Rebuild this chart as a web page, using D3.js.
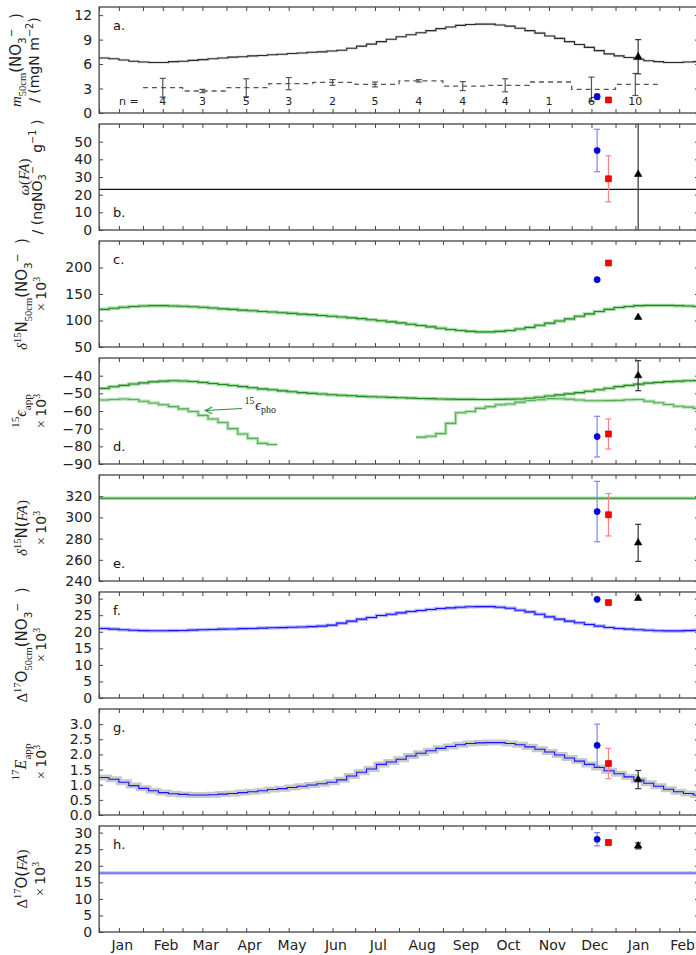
<!DOCTYPE html>
<html>
<head>
<meta charset="utf-8">
<script src="https://cdn.jsdelivr.net/npm/d3@7"></script>
<style>
  body { margin: 0; background: #fff; }
  svg { display: block; }
  text { white-space: pre; }
</style>
</head>
<body>
<svg id="chart" width="696" height="955"></svg>
<script>
// ---------------------------------------------------------------------------
// Data
// ---------------------------------------------------------------------------
const monthLabels = ["Jan","Feb","Mar","Apr","May","Jun","Jul","Aug","Sep","Oct","Nov","Dec","Jan","Feb"];

// Weekly model output, one value per 7-day step starting 1 January
const modelStart = "2013-01-01";
const massModel = [6.75,6.65,6.5,6.35,6.25,6.2,6.2,6.3,6.35,6.45,
  6.55,6.65,6.75,6.85,6.9,7.0,7.05,7.15,7.2,7.3,
  7.35,7.45,7.5,7.6,7.7,7.95,8.2,8.45,8.75,9.05,
  9.35,9.6,9.85,10.1,10.35,10.55,10.75,10.85,10.9,10.9,
  10.8,10.65,10.4,10.1,9.8,9.45,9.15,8.75,8.4,8.05,
  7.65,7.25,7.0,6.8,6.6,6.4,6.3,6.2,6.2,6.25,6.3];
const d15NSnow = [121,123,125,126.5,127.5,128,128,127.5,127,126,
  125,123.5,122,121,119.5,118.5,117,116,114.5,113.5,
  112,111,109.5,108,106.5,105,103.5,101.5,99.5,97.5,
  95.5,93,90.5,88,85.5,83,81,79.5,78.5,78.5,
  79.5,81,84,87,91,95,99,103,108,112.5,
  117,121,124.5,126.5,128,128.5,128.5,128.5,128,127.5,126.5];
const eps15App = [-47.2,-46.3,-45.5,-44.7,-44.1,-43.5,-43.1,-42.9,-43.0,-43.3,
  -43.8,-44.4,-45.0,-45.6,-46.2,-46.8,-47.5,-48.0,-48.6,-49.1,
  -49.6,-50.0,-50.4,-50.8,-51.1,-51.4,-51.7,-51.9,-52.1,-52.3,
  -52.5,-52.7,-52.9,-53.0,-53.2,-53.3,-53.4,-53.4,-53.5,-53.5,
  -53.4,-53.3,-53.2,-52.8,-52.2,-51.5,-50.9,-50.3,-49.6,-48.8,
  -48.0,-47.1,-46.2,-45.5,-44.8,-44.2,-43.8,-43.4,-43.1,-42.9,-42.8];
// photolysis fractionation is undefined during the polar night (null)
const eps15Pho = [-53.8,-53.5,-53.2,-53.5,-54.5,-55.5,-56.5,-57.5,-58.8,-60.3,
  -62.5,-64.5,-66.5,-70.0,-73.0,-75.5,-78.3,-79.0,null,null,
  null,null,null,null,null,null,null,null,null,null,
  null,null,-74.8,-74.3,-72.8,-67.0,-61.0,-60.3,-58.5,-57.5,
  -56.5,-56.0,-55.0,-54.0,-53.6,-53.0,-53.1,-53.3,-53.8,-54.2,
  -54.2,-54.1,-54.0,-53.6,-53.5,-54.5,-55.3,-56.3,-57.3,-57.8,-58.5];
const d17OSnow = [21.0,20.8,20.6,20.45,20.35,20.3,20.3,20.35,20.4,20.5,
  20.6,20.7,20.8,20.85,20.95,21.0,21.1,21.2,21.25,21.35,
  21.45,21.55,21.7,22.0,22.6,23.2,23.8,24.3,24.9,25.3,
  25.7,26.1,26.4,26.7,27.0,27.2,27.4,27.55,27.6,27.6,
  27.4,27.1,26.5,26.0,25.3,24.5,23.8,23.2,22.7,22.2,
  21.7,21.3,21.0,20.8,20.6,20.45,20.3,20.25,20.25,20.35,20.45];
const e17App = [1.24,1.18,1.08,0.97,0.88,0.80,0.74,0.70,0.68,0.66,
  0.66,0.67,0.69,0.71,0.74,0.77,0.80,0.84,0.87,0.91,
  0.95,0.99,1.03,1.08,1.16,1.29,1.41,1.52,1.67,1.75,
  1.84,1.95,2.04,2.12,2.20,2.26,2.32,2.36,2.38,2.39,
  2.39,2.36,2.32,2.25,2.17,2.08,1.98,1.88,1.78,1.67,
  1.57,1.46,1.36,1.26,1.15,1.05,0.95,0.85,0.77,0.71,0.66];

// Monthly snow-pit nitrate mass (median, spread, number of pits)
const pitMonths = ["2013-02","2013-03","2013-04","2013-05","2013-06","2013-07",
                   "2013-08","2013-09","2013-10","2013-11","2013-12","2014-01"];
const pitMass = [3.1,2.7,3.1,3.6,3.75,3.5,3.95,3.3,3.4,3.8,2.9,3.5];
const pitMassErr = [1.15,0.2,1.1,0.75,0.35,0.3,0.15,0.55,0.8,null,1.5,1.35];
const pitN = [4,3,5,3,2,5,4,4,4,1,6,10];

// Field observations: blue circle, red square, black triangle
const obsDates = ["2013-12-19","2013-12-27","2014-01-17"];
const obsMass = [2.0,1.6,6.9],        obsMassErr = [0.35,0.15,2.1];
const obsOmega = [45,29,31.5],        obsOmegaErr = [12,13,36];
const obsD15N = [177,208.5,106];
const obsEps15 = [-74.5,-73,-40],     obsEps15Err = [11.5,8.5,8.5];
const obsD15NFA = [305.5,302.5,276],  obsD15NFAErr = [28.5,20,17.5];
const obsD17O = [29.8,28.8,30.1];
const obsE17 = [2.3,1.7,1.17],        obsE17Err = [0.7,0.5,0.3];
const obsD17OFA = [28,27,26],         obsD17OFAErr = [2,0.8,0.9];

// Constant flux-averaged parameters
const omegaFA = 23;
const d15NFA = 318;
const d17OFA = 17.8;

// ---------------------------------------------------------------------------
// Layout
// ---------------------------------------------------------------------------
const parse = d3.utcParse("%Y-%m-%d");
const parseMonth = d3.utcParse("%Y-%m");
const svg = d3.select("#chart");
const X0 = 99.1, X1 = 699;
const PH = 106;
const panelTops = [7,124,241,358,475,592,709,826];
const start = parse(modelStart);

const x = d3.scaleUtc()
  .domain([parse("2013-01-01"), parse("2014-03-01")])
  .range([X0, X1]);

const monthStarts = d3.utcMonth.range(parse("2013-01-01"), parse("2014-03-02"));
const midMonths = d3.utcMonth.range(parse("2013-01-01"), parse("2014-03-01"))
  .map(d => d3.utcDay.offset(d, 14));
const labelDays = d3.utcMonth.range(parse("2013-01-01"), parse("2014-03-01"))
  .map(d => d3.utcDay.offset(d, 16));
const xTicks = monthStarts.concat(midMonths);

const SANS = "DejaVu Sans";
const SERIF = "Liberation Serif";
const FRAME = "#444";

function makePanel(i, domain, ticks, fmt) {
  const top = panelTops[i];
  const y = d3.scaleLinear().domain(domain).range([top + PH, top]);
  const g = svg.append("g");
  const clipId = "clip-" + i;
  svg.append("clipPath").attr("id", clipId)
    .append("rect").attr("x", X0).attr("y", top).attr("width", X1 - X0).attr("height", PH);
  const plot = g.append("g").attr("clip-path", `url(#${clipId})`);

  // left axis with labels
  g.append("g").attr("transform", `translate(${X0},0)`)
    .call(d3.axisLeft(y).tickValues(ticks).tickFormat(fmt || d3.format("d"))
      .tickSizeInner(-4).tickSizeOuter(0).tickPadding(7))
    .call(a => a.select(".domain").remove())
    .call(a => a.selectAll("line").attr("stroke", FRAME))
    .call(a => a.selectAll("text").attr("font-family", SANS).attr("font-size", 14).attr("fill", "#222"));
  // right axis, ticks only
  g.append("g").attr("transform", `translate(${X1},0)`)
    .call(d3.axisRight(y).tickValues(ticks).tickFormat("").tickSizeInner(-4).tickSizeOuter(0))
    .call(a => a.select(".domain").remove())
    .call(a => a.selectAll("line").attr("stroke", FRAME));
  // top and bottom time ticks
  g.append("g").attr("transform", `translate(0,${top + PH})`)
    .call(d3.axisBottom(x).tickValues(xTicks).tickFormat("").tickSizeInner(-4).tickSizeOuter(0))
    .call(a => a.select(".domain").remove())
    .call(a => a.selectAll("line").attr("stroke", FRAME));
  g.append("g").attr("transform", `translate(0,${top})`)
    .call(d3.axisTop(x).tickValues(xTicks).tickFormat("").tickSizeInner(-4).tickSizeOuter(0))
    .call(a => a.select(".domain").remove())
    .call(a => a.selectAll("line").attr("stroke", FRAME));
  // frame
  g.append("rect").attr("x", X0).attr("y", top).attr("width", X1 - X0).attr("height", PH)
    .attr("fill", "none").attr("stroke", FRAME).attr("stroke-width", 1.3);
  return { y, g, plot, top };
}

function panelLetter(p, letter, atBottom) {
  p.g.append("text").attr("x", 113).attr("y", atBottom ? p.top + PH - 13 : p.top + 23)
    .attr("font-family", SANS).attr("font-size", 13).attr("fill", "#111").text(letter);
}

// rotated axis label built from styled runs: [text, font, position]
function richLabel(xPos, yCenter, parts, size) {
  const t = svg.append("text")
    .attr("transform", `translate(${xPos},${yCenter}) rotate(-90)`)
    .attr("text-anchor", "middle").attr("fill", "#222").attr("font-size", size);
  let cur = 0;
  parts.forEach(([txt, font, pos]) => {
    const off = pos === "sub" ? size * 0.3 : pos === "sup" ? -size * 0.42 : 0;
    const ts = t.append("tspan").text(txt).attr("dy", off - cur);
    cur = off;
    if (pos) ts.attr("font-size", size * 0.7);
    if (font === "i") ts.attr("font-family", SERIF).attr("font-style", "italic");
    else if (font === "r") ts.attr("font-family", SERIF);
    else ts.attr("font-family", SANS);
  });
  return t;
}

function stepRuns(values) {
  const runs = []; let run = null;
  values.forEach((v, k) => {
    if (v == null) { run = null; return; }
    if (!run) { run = []; runs.push(run); }
    const t0 = d3.utcDay.offset(start, k * 7);
    run.push({ t: t0, v }, { t: d3.utcDay.offset(t0, 7), v });
  });
  return runs;
}

function drawSteps(p, values, halo, haloW, color, width, opacity) {
  const line = d3.line().x(d => x(d.t)).y(d => p.y(d.v));
  stepRuns(values).forEach(run => {
    if (halo) p.plot.append("path").attr("d", line(run)).attr("fill", "none")
      .attr("stroke", halo).attr("stroke-width", haloW).attr("opacity", opacity || 1);
    p.plot.append("path").attr("d", line(run)).attr("fill", "none")
      .attr("stroke", color).attr("stroke-width", width).attr("opacity", opacity || 1);
  });
}

function hLine(p, v, halo, haloW, color, width) {
  [[halo, haloW], [color, width]].forEach(([c, w]) => {
    if (!c) return;
    p.plot.append("line").attr("x1", X0).attr("x2", X1)
      .attr("y1", p.y(v)).attr("y2", p.y(v)).attr("stroke", c).attr("stroke-width", w);
  });
}

function errBar(p, t, v, e, color, cap) {
  if (e == null) return;
  const xx = x(t), c = cap || 3;
  const g = p.plot.append("g").attr("stroke", color).attr("stroke-width", 1.2);
  g.append("line").attr("x1", xx).attr("x2", xx).attr("y1", p.y(v - e)).attr("y2", p.y(v + e));
  [v - e, v + e].forEach(b => g.append("line").attr("x1", xx - c).attr("x2", xx + c)
    .attr("y1", p.y(b)).attr("y2", p.y(b)));
}

const markerStyles = [
  { type: d3.symbolCircle, size: 30, fill: "#0000ff", stroke: "#00006a", err: "#7f7fff" },
  { type: d3.symbolSquare, size: 36, fill: "#ff0000", stroke: "#a00000", err: "#ff8080" },
  { type: d3.symbolTriangle, size: 24, fill: "#000000", stroke: "#000000", err: "#333333" }
];

function observations(p, values, errs) {
  values.forEach((v, i) => {
    const t = parse(obsDates[i]);
    const s = markerStyles[i];
    if (errs) errBar(p, t, v, errs[i], s.err, 3);
    p.plot.append("path").attr("d", d3.symbol().type(s.type).size(s.size)())
      .attr("transform", `translate(${x(t)},${p.y(v)})`)
      .attr("fill", s.fill).attr("stroke", s.stroke).attr("stroke-width", 0.6);
  });
}

// ---------------------------------------------------------------------------
// Panels
// ---------------------------------------------------------------------------
const GREEN = "#1f8a1f", GREEN_HALO = "#a6dba6";
const BLUE = "#1414ff", BLUE_HALO = "#b3b3ff";

// a. nitrate mass in the top 50 cm
const pa = makePanel(0, [0, 13], [0, 3, 6, 9, 12]);
drawSteps(pa, massModel, "#d4d4d4", 2.5, "#2a2a2a", 1.1);
{
  const runs = [];
  pitMonths.forEach((m, i) => {
    const t0 = parseMonth(m);
    runs.push({ t: t0, v: pitMass[i] }, { t: d3.utcMonth.offset(t0, 1), v: pitMass[i] });
  });
  const line = d3.line().x(d => x(d.t)).y(d => pa.y(d.v));
  pa.plot.append("path").attr("d", line(runs)).attr("fill", "none")
    .attr("stroke", "#555").attr("stroke-width", 1.3).attr("stroke-dasharray", "5,4");
  pitMonths.forEach((m, i) => {
    const tm = d3.utcDay.offset(parseMonth(m), 14);
    errBar(pa, tm, pitMass[i], pitMassErr[i], "#555", 3);
    pa.g.append("text").attr("x", x(tm)).attr("y", pa.top + 98)
      .attr("text-anchor", "middle").attr("font-family", SANS).attr("font-size", 11)
      .attr("fill", "#222").text(pitN[i]);
  });
  pa.g.append("text").attr("x", x(parse("2013-01-22"))).attr("y", pa.top + 98)
    .attr("text-anchor", "middle").attr("font-family", SANS).attr("font-size", 11)
    .attr("fill", "#222").text("n =");
}
observations(pa, obsMass, obsMassErr);
panelLetter(pa, "a.", false);

// b. nitrate concentration of the flux-averaged deposition
const pb = makePanel(1, [0, 60], [0, 10, 20, 30, 40, 50]);
hLine(pb, omegaFA, null, 0, "#111", 1.2);
observations(pb, obsOmega, obsOmegaErr);
panelLetter(pb, "b.", true);

// c. d15N of nitrate in the top 50 cm
const pc = makePanel(2, [50, 250], [50, 100, 150, 200]);
drawSteps(pc, d15NSnow, GREEN_HALO, 3.5, GREEN, 1.1);
observations(pc, obsD15N, null);
panelLetter(pc, "c.", false);

// d. apparent and photolytic 15N fractionation
const pd = makePanel(3, [-90, -30], [-90, -80, -70, -60, -50, -40], d3.format("d"));
drawSteps(pd, eps15Pho, GREEN_HALO, 3.5, "#3f9f3f", 1.1, 0.8);
drawSteps(pd, eps15App, GREEN_HALO, 3.5, GREEN, 1.1);
observations(pd, obsEps15, obsEps15Err);
panelLetter(pd, "d.", true);
{
  const tipX = x(parse("2013-03-17")), tipY = pd.y(-59.7);
  const tailX = x(parse("2013-04-12")), tailY = pd.y(-58.6);
  const arr = pd.g.append("g").attr("stroke", "#2e8f2e").attr("stroke-width", 1.1).attr("fill", "none");
  arr.append("line").attr("x1", tailX).attr("y1", tailY).attr("x2", tipX).attr("y2", tipY);
  arr.append("path").attr("d", `M${tipX + 7},${tipY - 3.5} L${tipX},${tipY} L${tipX + 7},${tipY + 3.2}`);
  const lab = pd.g.append("text").attr("x", x(parse("2013-04-14"))).attr("y", pd.y(-59.4))
    .attr("fill", "#222").attr("font-size", 14).attr("font-family", SERIF);
  lab.append("tspan").text("15").attr("font-size", 9.5).attr("dy", -6);
  lab.append("tspan").text("ϵ").attr("font-style", "italic").attr("dy", 6).attr("dx", 1);
  lab.append("tspan").text("pho").attr("font-size", 10).attr("dy", 3.5);
}

// e. d15N of the flux-averaged deposition
const pe = makePanel(4, [240, 340], [240, 260, 280, 300, 320]);
hLine(pe, d15NFA, GREEN_HALO, 3.5, GREEN, 1.1);
observations(pe, obsD15NFA, obsD15NFAErr);
panelLetter(pe, "e.", true);

// f. D17O of nitrate in the top 50 cm
const pf = makePanel(5, [0, 32], [0, 5, 10, 15, 20, 25, 30]);
drawSteps(pf, d17OSnow, BLUE_HALO, 3.5, BLUE, 1.1);
observations(pf, obsD17O, null);
panelLetter(pf, "f.", false);

// g. apparent 17O excess transfer
const pg = makePanel(6, [0, 3.5], [0, 0.5, 1, 1.5, 2, 2.5, 3], d3.format(".1f"));
drawSteps(pg, e17App, "#c9c9c9", 6, BLUE, 1.1);
observations(pg, obsE17, obsE17Err);
panelLetter(pg, "g.", false);

// h. D17O of the flux-averaged deposition
const ph = makePanel(7, [0, 32], [0, 5, 10, 15, 20, 25, 30]);
hLine(ph, d17OFA, "#a0a0ff", 3, "#7070ff", 1.2);
observations(ph, obsD17OFA, obsD17OFAErr);
panelLetter(ph, "h.", false);

// month names under the last panel
svg.append("g").attr("transform", `translate(0,${ph.top + PH})`)
  .call(d3.axisBottom(x).tickValues(labelDays).tickFormat((d, i) => monthLabels[i])
    .tickSize(0).tickPadding(8))
  .call(a => a.select(".domain").remove())
  .call(a => a.selectAll("text").attr("font-family", SANS).attr("font-size", 14).attr("fill", "#222"));

// ---------------------------------------------------------------------------
// Axis titles
// ---------------------------------------------------------------------------
const mid = i => panelTops[i] + PH / 2;
richLabel(21, mid(0), [["m","i"],["50cm","r","sub"],["(NO","s"],["3","s","sub"],["−","s","sup"],["  )","s"]], 15);
richLabel(39, mid(0), [["/ (mgN m","s"],["−2","s","sup"],[")","s"]], 14);
richLabel(29, mid(1), [["ω","i"],["(","r"],["FA","i"],[")","r"]], 15);
richLabel(42, mid(1), [["/ (ngNO","s"],["3","s","sub"],["−","s","sup"],["   g","s"],["−1","s","sup"],[" )","s"]], 14);
richLabel(27, mid(2), [["δ","i"],["15","r","sup"],["N","s"],["50cm","r","sub"],["(NO","s"],["3","s","sub"],["−","s","sup"],["  )","s"]], 15);
richLabel(46, mid(2), [["× ","r"],["10","s"],["3","r","sup"]], 14);
richLabel(26, mid(3), [["15","r","sup"],["ϵ","i"],["app","r","sub"]], 16);
richLabel(46, mid(3), [["× ","r"],["10","s"],["3","r","sup"]], 14);
richLabel(27, mid(4), [["δ","i"],["15","r","sup"],["N(","s"],["FA","i"],[")","r"]], 15);
richLabel(46, mid(4), [["× ","r"],["10","s"],["3","r","sup"]], 14);
richLabel(27, mid(5), [["Δ","r"],["17","r","sup"],["O","s"],["50cm","r","sub"],["(NO","s"],["3","s","sub"],["−","s","sup"],["  )","s"]], 15);
richLabel(46, mid(5), [["× ","r"],["10","s"],["3","r","sup"]], 14);
richLabel(26, mid(6), [["17","r","sup"],["E","i"],["app","r","sub"]], 16);
richLabel(46, mid(6), [["× ","r"],["10","s"],["3","r","sup"]], 14);
richLabel(27, mid(7), [["Δ","r"],["17","r","sup"],["O(","s"],["FA","i"],[")","r"]], 15);
richLabel(45, mid(7), [["× ","r"],["10","s"],["3","r","sup"]], 14);
</script>
</body>
</html>
